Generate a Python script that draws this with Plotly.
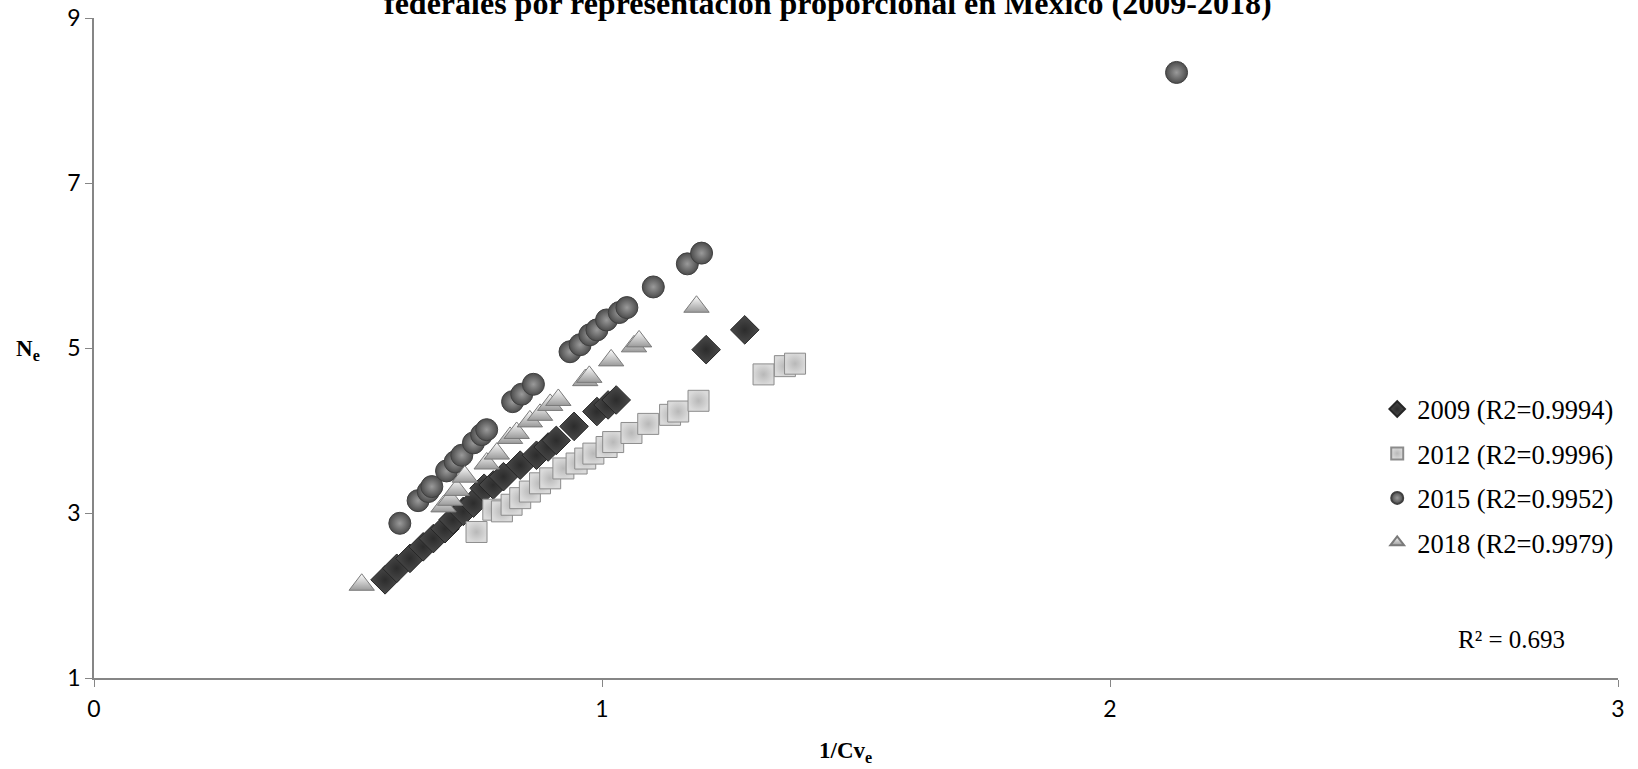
import plotly.graph_objects as go

# ---- data ----
x09 = [0.573, 0.596, 0.622, 0.648, 0.668, 0.691, 0.707, 0.727, 0.747, 0.768, 0.786, 0.806, 0.839, 0.871, 0.894, 0.910, 0.945, 0.990, 1.012, 1.028, 1.205, 1.281]
y09 = [2.19, 2.33, 2.45, 2.59, 2.69, 2.81, 2.92, 3.02, 3.12, 3.30, 3.34, 3.44, 3.58, 3.70, 3.80, 3.88, 4.05, 4.23, 4.31, 4.37, 4.98, 5.22]

x12 = [0.753, 0.786, 0.803, 0.822, 0.839, 0.858, 0.878, 0.898, 0.924, 0.950, 0.967, 0.983, 1.009, 1.022, 1.058, 1.091, 1.134, 1.150, 1.190, 1.318, 1.360, 1.380]
y12 = [2.77, 3.04, 3.02, 3.10, 3.18, 3.26, 3.36, 3.42, 3.54, 3.60, 3.66, 3.72, 3.80, 3.86, 3.97, 4.08, 4.19, 4.23, 4.36, 4.68, 4.78, 4.81]

x15 = [0.602, 0.638, 0.658, 0.665, 0.694, 0.711, 0.724, 0.747, 0.763, 0.773, 0.824, 0.842, 0.865, 0.937, 0.957, 0.976, 0.990, 1.009, 1.034, 1.049, 1.101, 1.168, 1.196, 2.131]
y15 = [2.875, 3.15, 3.26, 3.32, 3.51, 3.62, 3.70, 3.85, 3.95, 4.01, 4.35, 4.44, 4.56, 4.955, 5.04, 5.16, 5.22, 5.34, 5.43, 5.49, 5.74, 6.02, 6.15, 8.34]

x18 = [0.527, 0.688, 0.701, 0.714, 0.730, 0.773, 0.793, 0.819, 0.832, 0.858, 0.878, 0.898, 0.914, 0.967, 0.975, 1.018, 1.063, 1.073, 1.186]
y18 = [2.13, 3.08, 3.16, 3.28, 3.44, 3.60, 3.72, 3.91, 3.97, 4.11, 4.19, 4.31, 4.37, 4.61, 4.65, 4.85, 5.02, 5.08, 5.50]

series_names = ["2009 (R2=0.9994)", "2012 (R2=0.9996)", "2015 (R2=0.9952)", "2018 (R2=0.9979)"]
x_ticks = [0, 1, 2, 3]
y_ticks = [1, 3, 5, 7, 9]

title_text = "federales por representación proporcional en México (2009-2018)"
r2_text = "R² = 0.693"

SERIF = "Liberation Serif, Times New Roman, serif"

fig = go.Figure()

fig.add_trace(go.Scatter(
    x=x09, y=y09, mode="markers", name=series_names[0], legendgroup="a",
    marker=dict(symbol="diamond", size=22, color="#4a4a4a",
                gradient=dict(type="radial", color="#2c2c2c"),
                line=dict(color="#262626", width=1))))
fig.add_trace(go.Scatter(
    x=x12, y=y12, mode="markers", name=series_names[1], legendgroup="b",
    marker=dict(symbol="square", size=21, color="#dadada",
                gradient=dict(type="radial", color="#b8b8b8"),
                line=dict(color="#8c8c8c", width=1))))
fig.add_trace(go.Scatter(
    x=x15, y=y15, mode="markers", name=series_names[2], legendgroup="c",
    marker=dict(symbol="circle", size=22, color="#4c4c4c",
                gradient=dict(type="radial", color="#9a9a9a"),
                line=dict(color="#404040", width=1))))
fig.add_trace(go.Scatter(
    x=x18, y=y18, mode="markers", name=series_names[3], legendgroup="d",
    marker=dict(symbol="triangle-up", size=22, color="#ffffff",
                gradient=dict(type="vertical", color="#9a9a9a"),
                line=dict(color="#7a7a7a", width=1))))

axis_common = dict(showgrid=False, zeroline=False, showline=True, linecolor="#868686",
                   linewidth=1.5, ticks="outside", tickcolor="#868686", ticklen=7,
                   automargin=False,
                   tickfont=dict(family="Lato, Liberation Sans, Arial", size=23, color="#000000"))

fig.update_xaxes(range=[0, 3], tickvals=x_ticks, ticklabelstandoff=3, **axis_common)
fig.update_yaxes(range=[1, 9], tickvals=y_ticks, **axis_common)

fig.add_annotation(text="<b>" + title_text + "</b>", xref="paper", yref="paper", x=0.4816, y=1.0,
                   yanchor="middle", yshift=15, showarrow=False,
                   font=dict(family=SERIF, size=32, color="#000000"))
fig.add_annotation(text="<b>1/Cv<sub>e</sub></b>", xref="paper", yref="paper", x=0.4934, y=0,
                   yshift=-74, yanchor="middle", showarrow=False,
                   font=dict(family=SERIF, size=23, color="#000000"))
fig.add_annotation(text="<b>N<sub>e</sub></b>", xref="paper", yref="paper", x=0, y=0.497,
                   xshift=-66, xanchor="center", yanchor="middle", showarrow=False,
                   font=dict(family=SERIF, size=23, color="#000000"))
fig.add_annotation(text=r2_text, xref="paper", yref="paper", x=0.93, y=0.059,
                   xanchor="center", yanchor="middle", showarrow=False,
                   font=dict(family=SERIF, size=25, color="#000000"))

fig.update_layout(
    template="none",
    width=1638, height=769,
    margin=dict(l=94, r=20, t=18, b=91, autoexpand=False),
    plot_bgcolor="#ffffff", paper_bgcolor="#ffffff",
    legend=dict(x=0.842, y=0.4435, xanchor="left", yanchor="top",
                font=dict(family=SERIF, size=26.5, color="#000000"),
                tracegroupgap=7, itemsizing="constant", bgcolor="rgba(0,0,0,0)"),
    showlegend=True,
)

fig.write_html("out.html", config={"displayModeBar": False},
               post_script="document.body.style.margin='0px';")
